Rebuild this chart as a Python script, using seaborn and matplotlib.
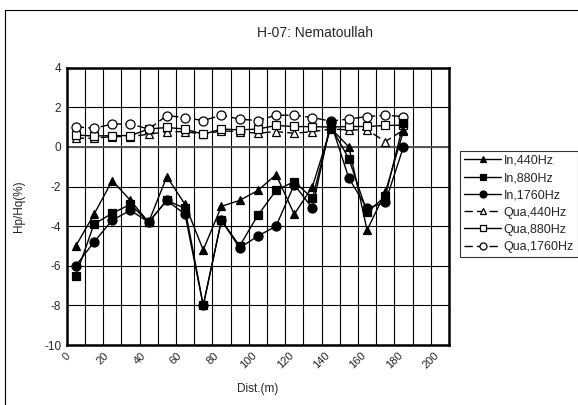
import matplotlib
matplotlib.use("Agg")
import matplotlib.pyplot as plt
from matplotlib.lines import Line2D
import seaborn as sns
import pandas as pd

# Survey stations along the profile (m)
dist = [5, 15, 25, 35, 45, 55, 65, 75, 85, 95, 105, 115, 125, 135, 145, 155, 165, 175, 185]

# In-phase ratios Hp/Hq (%)
in_440 = [-5.0, -3.4, -1.7, -2.7, -3.8, -1.5, -2.9, -5.2, -3.0, -2.7, -2.2, -1.4, -3.4, -2.0, 0.95, 0.0, -4.2, -2.3, 0.8]
in_880 = [-6.5, -3.9, -3.35, -2.9, -3.8, -2.7, -3.1, -8.0, -3.7, -5.0, -3.45, -2.2, -1.75, -2.6, 1.05, -0.6, -3.3, -2.5, 1.2]
in_1760 = [-6.0, -4.8, -3.7, -3.2, -3.8, -2.7, -3.4, -8.0, -3.7, -5.1, -4.5, -4.0, -1.9, -3.1, 1.25, -1.58, -3.1, -2.8, 0.0]

# Quadrature ratios Hp/Hq (%)
qua_440 = [0.44, 0.44, 0.52, 0.52, 0.64, 0.77, 0.77, 0.64, 0.81, 0.77, 0.69, 0.77, 0.69, 0.77, 0.9, 0.86, 0.86, 0.27, 0.85]
qua_880 = [0.6, 0.55, 0.57, 0.57, 0.9, 0.98, 0.9, 0.64, 0.9, 0.86, 0.9, 1.08, 1.03, 1.02, 1.0, 1.03, 1.03, 1.08, 1.1]
qua_1760 = [1.02, 0.94, 1.15, 1.16, 0.9, 1.58, 1.48, 1.33, 1.6, 1.4, 1.33, 1.6, 1.6, 1.48, 1.3, 1.41, 1.53, 1.6, 1.53]

x_ticks = list(range(0, 201, 20))
y_ticks = list(range(-10, 5, 2))

series = [
    ("In,440Hz", in_440, "^", "black", "-"),
    ("In,880Hz", in_880, "s", "black", "-"),
    ("In,1760Hz", in_1760, "o", "black", "-"),
    ("Qua,440Hz", qua_440, "^", "white", (0, (6, 3))),
    ("Qua,880Hz", qua_880, "s", "white", "-"),
    ("Qua,1760Hz", qua_1760, "o", "white", (0, (6, 3))),
]

sns.set_style("white")
plt.rcParams["font.family"] = ["Liberation Sans", "DejaVu Sans"]

fig = plt.figure(figsize=(5.78, 4.05), dpi=100)
ax = fig.add_axes([0.1154, 0.148, 0.6614, 0.685])

# Grid drawn underneath the data
for gx in range(0, 211, 10):
    ax.axvline(gx, color="black", lw=0.8, zorder=0)
for gy in range(-10, 5, 2):
    ax.axhline(gy, color="black", lw=0.8, zorder=0)
ax.axhline(0, color="#555555", lw=1.4, zorder=0)

handles = []
for name, vals, mk, fc, ls in series:
    df = pd.DataFrame({"dist": dist, "val": vals})
    sns.lineplot(data=df, x="dist", y="val", ax=ax, color="black", lw=1.0,
                 linestyle=ls, marker=mk, markersize=5.5 if mk != "o" else 6.5,
                 markerfacecolor=fc, markeredgecolor="black", markeredgewidth=0.9,
                 zorder=3 if fc == "white" else 4, legend=False)
    handles.append(Line2D([], [], color="black", lw=1.0, linestyle=ls, marker=mk,
                          markersize=5, markerfacecolor=fc, markeredgecolor="black",
                          markeredgewidth=0.9, label=name))

ax.set_xlim(0, 210)
ax.set_ylim(-10, 4)
ax.set_xticks(x_ticks)
ax.set_yticks(y_ticks)
ax.set_xticklabels([str(t) for t in x_ticks], rotation=45, fontsize=8)
ax.set_yticklabels([str(t) for t in y_ticks], fontsize=8.5)
ax.tick_params(axis="both", length=0, pad=4)
ax.set_xlabel("Dist.(m)", fontsize=8.5, labelpad=9)
ax.set_ylabel("Hp/Hq(%)", fontsize=8.5, labelpad=14)
fig.text(315 / 578, 1 - 33 / 405, "H-07: Nematoullah", fontsize=10,
         ha="center", va="center")

for sp in ax.spines.values():
    sp.set_visible(True)
    sp.set_color("black")
    sp.set_linewidth(1.8)
    sp.set_linestyle((0, (5, 1)))

leg = fig.legend(handles=handles, loc="upper left", bbox_to_anchor=(0.796, 0.627),
                 bbox_transform=fig.transFigure, borderaxespad=0, fontsize=9,
                 frameon=True, fancybox=False, edgecolor="black",
                 handlelength=3.0, handletextpad=0.2, labelspacing=0.42,
                 borderpad=0.3)
leg.get_frame().set_linewidth(0.8)

# Outer frame of the chart area
fig.add_artist(Line2D([5 / 578, 5 / 578], [0, 1 - 10 / 405], color="black", lw=0.8,
                      transform=fig.transFigure))
fig.add_artist(Line2D([5 / 578, 1], [1 - 10 / 405, 1 - 10 / 405], color="black", lw=0.8,
                      transform=fig.transFigure))

fig.savefig("out.png", dpi=100)
